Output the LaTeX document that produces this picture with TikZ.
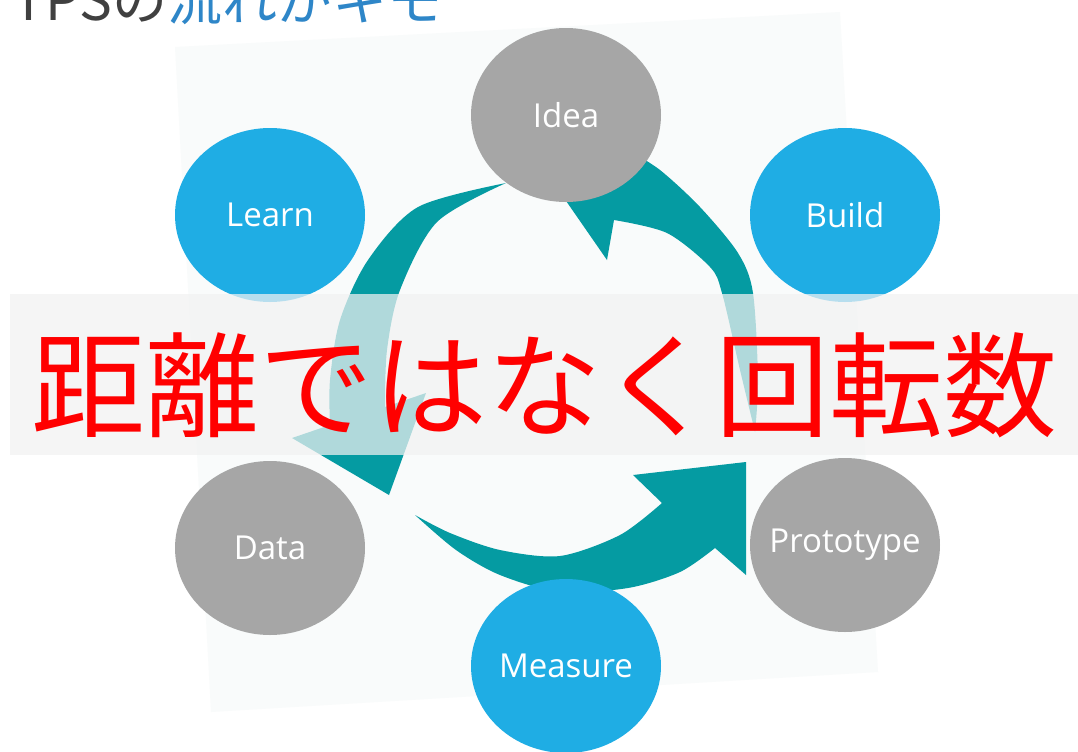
\documentclass[tikz,border=0pt]{standalone}
\usepackage{fontspec}
\setmainfont{Open Sans}
\newfontfamily\jpfont{Noto Sans CJK JP}
\usetikzlibrary{shapes.geometric}
\definecolor{cyclegrey}{RGB}{166,166,166}
\definecolor{cycleblue}{RGB}{31,173,228}
\definecolor{cycleteal}{RGB}{5,155,162}
\definecolor{titlegrey}{RGB}{64,64,64}
\definecolor{titleblue}{RGB}{46,134,200}
\definecolor{panel}{RGB}{249,251,251}
\definecolor{bandgrey}{RGB}{242,242,242}
\tikzset{bubble/.style={ellipse,minimum width=95pt,minimum height=87pt,inner sep=0pt,
    text=white,font=\fontsize{16.5}{19}\selectfont}}

\begin{document}
\begin{tikzpicture}[x=0.5pt,y=-0.5pt]
        \clip (0,0) rectangle (1078,751);
        \fill[white] (0,0) rectangle (1078,751);
        % tilted backdrop
        \fill[panel] (175,47) -- (840,12) -- (878,672) -- (211,712) -- cycle;
        % left sweep, heading down
        \fill[cycleteal] plot[smooth] coordinates {(506,183) (418,207) (368,260) (340,320) (330,380) (330,425)}
            -- (292,438) -- (389,495) -- (426,393) -- (385,407)
            -- plot[smooth] coordinates {(385,407) (387,350) (400,290) (437,222) (506,183)} -- cycle;
        % bottom sweep, heading up to the right
        \fill[cycleteal] plot[smooth] coordinates {(415,515) (456,550) (500,575) (560,592) (628,588) (680,572) (715,548)}
            -- (746,575) -- (746,462) -- (633,475) -- (662,503)
            -- plot[smooth] coordinates {(662,503) (620,535) (560,556) (500,550) (450,533) (415,515)} -- cycle;
        % right sweep, back to the top
        \fill[cycleteal] plot[smooth] coordinates {(755,432) (758,380) (753,293) (738,253) (700,207) (660,170) (628,150)}
            -- (633,111) -- (546,172) -- (607,260) -- (614,220)
            -- plot[smooth] coordinates {(614,220) (667,233) (710,267) (722,293) (740,370) (755,432)} -- cycle;
        \foreach \n/\x/\y/\c/\l in
            { idea/566/115/cyclegrey/Idea
            , build/845/215/cycleblue/Build
            , proto/845/545/cyclegrey/Prototype
            , measure/566/666/cycleblue/Measure
            , data/270/548/cyclegrey/Data
            , learn/270/215/cycleblue/Learn
            }
        {\node[bubble,fill=\c] (\n) at (\x,\y) {\makebox[0pt]{\l\unskip}};}
        % band with the slogan
        \fill[bandgrey,fill opacity=0.72] (10,294) rectangle (1078,455);
        \node[text=red,inner sep=0pt,font=\jpfont\fontsize{57}{60}\selectfont] (slogan) at (545,385) {距離ではなく回転数};
        % heading, cut by the top edge
        \node[anchor=base west,inner sep=0pt,font=\jpfont\fontsize{27.5}{30}\selectfont] (heading) at (12,20)
            {\textcolor{titlegrey}{TPSの}\textcolor{titleblue}{流れがキモ}};
\end{tikzpicture}
\end{document}
